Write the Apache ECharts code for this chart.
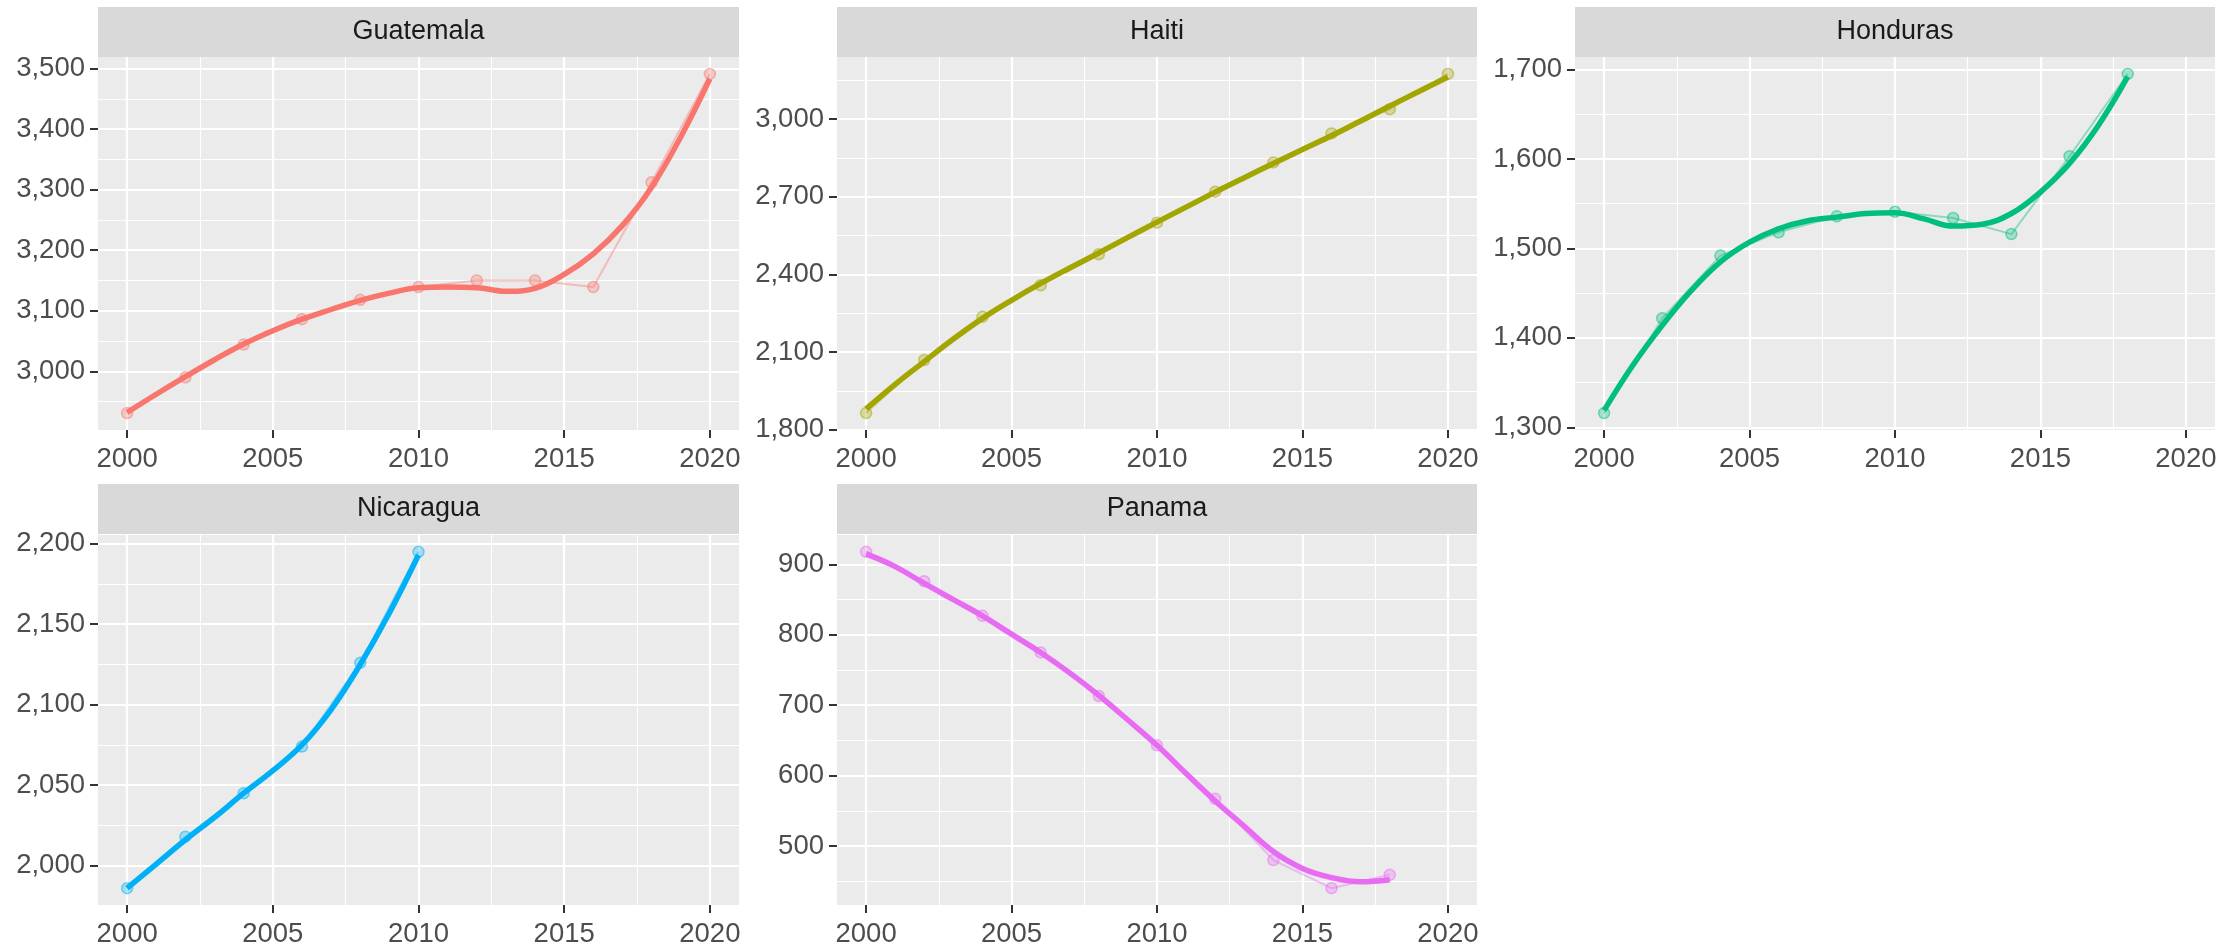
<!DOCTYPE html>
<html><head><meta charset="utf-8">
<script src="https://cdn.jsdelivr.net/npm/echarts@6/dist/echarts.min.js"></script>
<style>html,body{margin:0;padding:0;background:#fff}#c{width:2233px;height:948px}</style>
</head><body><div id="c"></div>
<script>
// ---------------- data ----------------
const countries = ['Guatemala', 'Haiti', 'Honduras', 'Nicaragua', 'Panama'];
const colors = ['#F8766D', '#A3A500', '#00BF7D', '#00B0F6', '#E76BF3'];

const guatemalaYears  = [2000, 2002, 2004, 2006, 2008, 2010, 2012, 2014, 2016, 2018, 2020];
const guatemalaValues = [2931, 2990, 3044, 3086, 3118, 3139, 3150, 3150, 3139, 3312, 3491];
const guatemalaSmoothYears  = [2000, 2001, 2002, 2003, 2004, 2005, 2006, 2007, 2008, 2009, 2010, 2011, 2012, 2013, 2014, 2015, 2016, 2017, 2018, 2019, 2020];
const guatemalaSmoothValues = [2932, 2962, 2991, 3019, 3045, 3067, 3086, 3102, 3117, 3129, 3138, 3139, 3138, 3132, 3137, 3160, 3194, 3241, 3304, 3387, 3483];

const haitiYears  = [2000, 2002, 2004, 2006, 2008, 2010, 2012, 2014, 2016, 2018, 2020];
const haitiValues = [1864, 2069, 2236, 2358, 2478, 2600, 2720, 2833, 2945, 3039, 3175];
const haitiSmoothYears  = [2000, 2001, 2002, 2003, 2004, 2005, 2006, 2007, 2008, 2009, 2010, 2011, 2012, 2013, 2014, 2015, 2016, 2017, 2018, 2019, 2020];
const haitiSmoothValues = [1880, 1975, 2063, 2150, 2230, 2300, 2365, 2425, 2483, 2543, 2602, 2660, 2718, 2774, 2829, 2883, 2936, 2993, 3051, 3107, 3163];

const hondurasYears  = [2000, 2002, 2004, 2006, 2008, 2010, 2012, 2014, 2016, 2018];
const hondurasValues = [1316, 1422, 1492, 1518, 1536, 1541, 1534, 1516, 1603, 1695];
const hondurasSmoothYears  = [2000, 2001, 2002, 2003, 2004, 2005, 2006, 2007, 2008, 2009, 2010, 2011, 2012, 2013, 2014, 2015, 2016, 2017, 2018];
const hondurasSmoothValues = [1319, 1370, 1414, 1453, 1485, 1507, 1522, 1531, 1535, 1539, 1540, 1533, 1525, 1527, 1539, 1563, 1595, 1638, 1692];

const nicaraguaYears  = [2000, 2002, 2004, 2006, 2008, 2010];
const nicaraguaValues = [1986, 2018, 2045, 2074, 2126, 2195];
const nicaraguaSmoothYears  = [2000, 2001, 2002, 2003, 2004, 2005, 2006, 2007, 2008, 2009, 2010];
const nicaraguaSmoothValues = [1986, 2001, 2016, 2030, 2045, 2059, 2075, 2097, 2125, 2157, 2193];

const panamaYears  = [2000, 2002, 2004, 2006, 2008, 2010, 2012, 2014, 2016, 2018];
const panamaValues = [918, 876, 827, 775, 713, 643, 567, 480, 440, 459];
const panamaSmoothYears  = [2000, 2001, 2002, 2003, 2004, 2005, 2006, 2007, 2008, 2009, 2010, 2011, 2012, 2013, 2014, 2015, 2016, 2017, 2018];
const panamaSmoothValues = [915, 897, 873, 850, 827, 801, 775, 746, 714, 679, 643, 603, 564, 528, 492, 468, 455, 449, 452];

// tick labels
const xMajorTicks = [2000, 2005, 2010, 2015, 2020];
const xMinorTicks = [2002.5, 2007.5, 2012.5, 2017.5];
const guatemalaYTicks = [3000, 3100, 3200, 3300, 3400, 3500];
const guatemalaYMinor = [2950, 3050, 3150, 3250, 3350, 3450];
const haitiYTicks = [1800, 2100, 2400, 2700, 3000];
const haitiYMinor = [1950, 2250, 2550, 2850, 3150];
const hondurasYTicks = [1300, 1400, 1500, 1600, 1700];
const hondurasYMinor = [1350, 1450, 1550, 1650];
const nicaraguaYTicks = [2000, 2050, 2100, 2150, 2200];
const nicaraguaYMinor = [2025, 2075, 2125, 2175];
const panamaYTicks = [500, 600, 700, 800, 900];
const panamaYMinor = [450, 550, 650, 750, 850];

const panels = [
  {years: guatemalaYears, values: guatemalaValues, sYears: guatemalaSmoothYears, sValues: guatemalaSmoothValues, yt: guatemalaYTicks, ym: guatemalaYMinor},
  {years: haitiYears, values: haitiValues, sYears: haitiSmoothYears, sValues: haitiSmoothValues, yt: haitiYTicks, ym: haitiYMinor},
  {years: hondurasYears, values: hondurasValues, sYears: hondurasSmoothYears, sValues: hondurasSmoothValues, yt: hondurasYTicks, ym: hondurasYMinor},
  {years: nicaraguaYears, values: nicaraguaValues, sYears: nicaraguaSmoothYears, sValues: nicaraguaSmoothValues, yt: nicaraguaYTicks, ym: nicaraguaYMinor},
  {years: panamaYears, values: panamaValues, sYears: panamaSmoothYears, sValues: panamaSmoothValues, yt: panamaYTicks, ym: panamaYMinor}
];

// ---------------- layout ----------------
const colLeft = [98, 837, 1575];
const colWidth = [641, 640, 640];
const stripTop = [7, 484];
const stripH = 50;
const plotTop = [57, 535];
const plotH = [373, 372];
const FONT = 'Liberation Sans, Arial, sans-serif';

function hexA(hex, a) {
  const n = parseInt(hex.slice(1), 16);
  return 'rgba(' + (n >> 16 & 255) + ',' + (n >> 8 & 255) + ',' + (n & 255) + ',' + a + ')';
}

const grid = [], xAxis = [], yAxis = [], series = [], graphic = [];
panels.forEach((p, i) => {
  const r = Math.floor(i / 3), c = i % 3;
  const left = colLeft[c], width = colWidth[c];
  grid.push({left: left, top: plotTop[r], width: width, height: plotH[r], show: true,
    backgroundColor: '#EBEBEB', borderWidth: 0, containLabel: false});
  const all = p.values.concat(p.sValues);
  const lo = Math.min(...all), hi = Math.max(...all), pad = (hi - lo) * 0.05;
  const ymin = lo - pad, ymax = hi + pad;
  // major x axis
  xAxis.push({type: 'value', gridIndex: i, min: 1999, max: 2021, position: 'bottom',
    axisLine: {show: false},
    axisTick: {show: true, length: 8, customValues: xMajorTicks, lineStyle: {color: '#333333', width: 2}},
    axisLabel: {show: true, customValues: xMajorTicks, margin: 15, color: '#4D4D4D', fontSize: 27.5, fontFamily: FONT,
      formatter: v => String(v)},
    splitLine: {show: true, lineStyle: {color: '#FFFFFF', width: 2.2}}});
  // minor x axis (grid lines only)
  xAxis.push({type: 'value', gridIndex: i, min: 1999, max: 2021, position: 'top',
    axisLine: {show: false}, axisLabel: {show: false},
    axisTick: {show: false, customValues: xMinorTicks},
    splitLine: {show: true, lineStyle: {color: '#FFFFFF', width: 1.1}}});
  yAxis.push({type: 'value', gridIndex: i, min: ymin, max: ymax, position: 'left',
    axisLine: {show: false},
    axisTick: {show: true, length: 8, customValues: p.yt, lineStyle: {color: '#333333', width: 2}},
    axisLabel: {show: true, customValues: p.yt, margin: 13, color: '#4D4D4D', fontSize: 27.5, fontFamily: FONT,
      formatter: v => v.toLocaleString('en-US')},
    splitLine: {show: true, lineStyle: {color: '#FFFFFF', width: 2.2}}});
  yAxis.push({type: 'value', gridIndex: i, min: ymin, max: ymax, position: 'right',
    axisLine: {show: false}, axisLabel: {show: false},
    axisTick: {show: false, customValues: p.ym},
    splitLine: {show: true, lineStyle: {color: '#FFFFFF', width: 1.1}}});

  const col = colors[i];
  series.push({type: 'line', xAxisIndex: 2 * i, yAxisIndex: 2 * i,
    data: p.years.map((y, k) => [y, p.values[k]]),
    symbol: 'circle', symbolSize: 11, showSymbol: true,
    lineStyle: {color: hexA(col, 0.4), width: 2},
    itemStyle: {color: hexA(col, 0.3), borderColor: hexA(col, 0.5), borderWidth: 1.5},
    emphasis: {disabled: true}, silent: true, animation: false, z: 2});
  series.push({type: 'line', xAxisIndex: 2 * i, yAxisIndex: 2 * i,
    data: p.sYears.map((y, k) => [y, p.sValues[k]]),
    smooth: 0.4, showSymbol: false, symbol: 'none',
    lineStyle: {color: col, width: 5.5},
    emphasis: {disabled: true}, silent: true, animation: false, z: 3});

  graphic.push({type: 'rect', shape: {x: left, y: stripTop[r], width: width, height: stripH},
    style: {fill: '#D9D9D9'}, silent: true, z: 0});
  graphic.push({type: 'text', x: left + width / 2, y: stripTop[r] + stripH / 2,
    style: {text: countries[i], fill: '#1A1A1A', font: '27px ' + FONT, textAlign: 'center', textVerticalAlign: 'middle'},
    silent: true, z: 1});
});

const chart = echarts.init(document.getElementById('c'), null, {renderer: 'canvas'});
chart.setOption({animation: false, backgroundColor: '#FFFFFF', grid, xAxis, yAxis, series, graphic});
</script></body></html>
